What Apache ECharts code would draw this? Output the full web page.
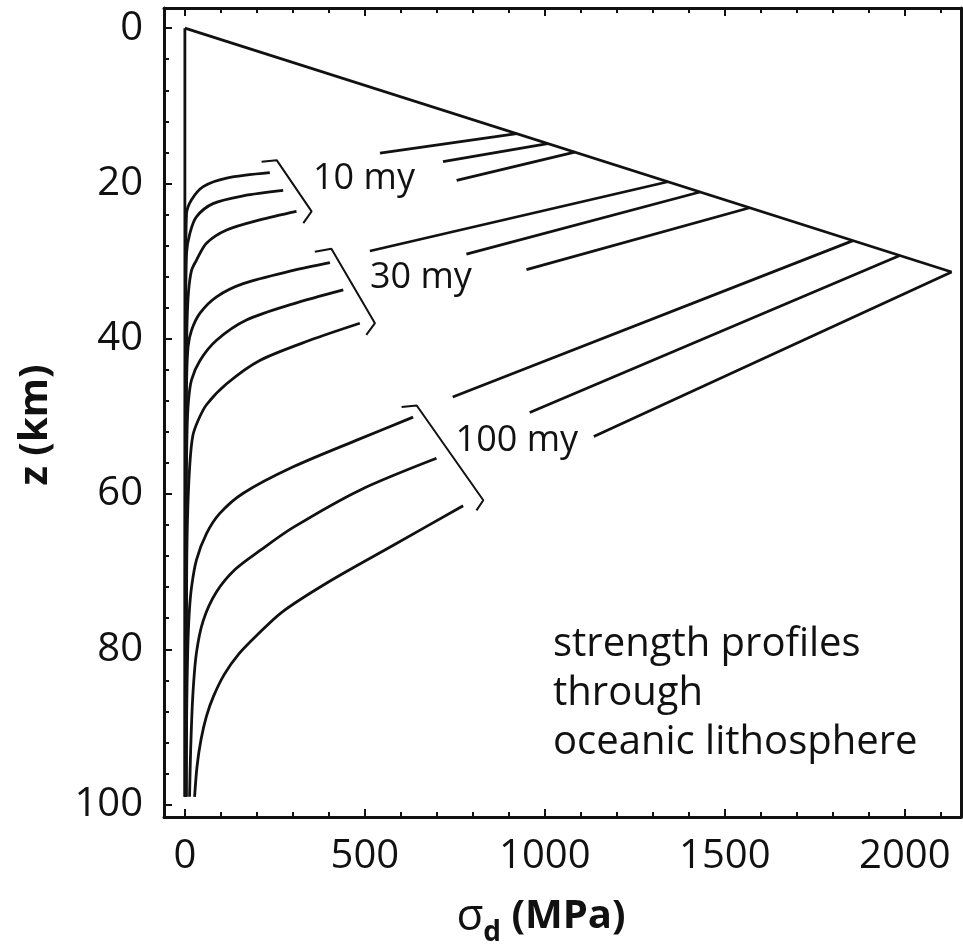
<!DOCTYPE html>
<html>
<head>
<meta charset="utf-8">
<title>strength profiles through oceanic lithosphere</title>
<script src="https://cdn.jsdelivr.net/npm/echarts@6/dist/echarts.min.js"></script>
<style>
html, body { margin: 0; padding: 0; background: #fff; }
#chart { width: 963px; height: 946px; }
</style>
</head>
<body>
<div id="chart"></div>
<script>
// stress sigma_d in MPa, depth z in km
const xTicks = [0, 500, 1000, 1500, 2000]
const xMinorTicks = [100, 200, 300, 400, 600, 700, 800, 900, 1100, 1200, 1300, 1400, 1600, 1700, 1800, 1900, 2100]
const yTicks = [0, 20, 40, 60, 80, 100]
const yMinorTicks = [4, 8, 12, 16, 24, 28, 32, 36, 44, 48, 52, 56, 64, 68, 72, 76, 84, 88, 92, 96]

const zeroLine = [[0, 0], [0, 99]]
const brittleLine = [[0, 0], [2130, 31.4]]

// ductile branches, part right of the bracket (from the brittle line down-left)
const upper10 = [
    [[922, 13.59], [542, 16.1]],
    [[1008, 14.86], [717, 17.2]],
    [[1083, 15.97], [755, 19.6]]
]
const upper30 = [
    [[1342, 19.78], [514, 28.7]],
    [[1431, 21.1], [782, 29.1]],
    [[1569, 23.13], [949, 31.1]]
]
const upper100 = [
    [[1856, 27.36], [744, 47.5]],
    [[1986, 29.28], [958, 49.5]],
    [[2130, 31.4], [1136, 52.6]]
]

// part left of the bracket, bending into the zero line
const lower10 = [
    [[236, 18.6], [116, 19.3], [51, 20.4], [18.5, 22.1], [4.6, 23.9], [2.5, 30], [1.5, 40], [1, 60], [0.5, 99]],
    [[273, 20.9], [162, 21.6], [78, 22.6], [32, 24.3], [14, 26.4], [4.6, 29], [2.5, 35], [1.5, 50], [1, 99]],
    [[310, 23.6], [208, 24.7], [116, 26], [60, 27.7], [32, 29.9], [18.5, 31.2], [10, 34], [6, 38], [3.5, 45], [2, 60], [1.5, 99]]
]
const lower30 = [
    [[403, 30.2], [301, 31.2], [162, 32.9], [88, 34.6], [42, 36.7], [18.5, 38.9], [9, 41], [5, 45], [3, 55], [2, 99]],
    [[440, 33.7], [301, 35.5], [171, 37.6], [88, 40.2], [42, 42.8], [18.5, 45.3], [10, 48], [6, 52], [4, 60], [2.5, 99]],
    [[486, 38], [347, 40.2], [208, 42.8], [116, 45.8], [60, 48.5], [37, 50.5], [22, 52.5], [14, 56], [8, 62], [5, 70], [3, 99]]
]
const lower100 = [
    [[634, 50.1], [486, 52.9], [301, 56.5], [162, 59.9], [97, 62.5], [60, 65.1], [32, 68.5], [18.5, 72], [12, 75.4], [8, 80], [5, 88], [4, 99]],
    [[699, 55.4], [486, 59.5], [301, 64.3], [208, 67.3], [140, 69.7], [88, 72.6], [51, 76.3], [32, 80.5], [22, 86], [16, 93], [13, 99]],
    [[773, 61.5], [579, 66.6], [400, 71.3], [270, 75.2], [200, 78.2], [150, 80.6], [110, 83.2], [80, 86], [60, 88.6], [45, 91.6], [34, 95], [27, 99]]
]

const brackets = [
    [[213, 17.2], [255, 17.0], [352, 23.6], [329, 25.1]],
    [[361, 28.8], [407, 28.4], [528, 38.0], [504, 39.5]],
    [[602, 48.8], [644, 48.6], [829, 60.8], [810, 62.1]]
]
const ageLabels = [
    [356, 19.4, '10 my'],
    [514, 32.2, '30 my'],
    [752, 53.2, '100 my']
]

const font = 'Open Sans'
const ink = '#111'

function lineSeries(data, smooth, width) {
    return {
        type: 'line',
        data: data,
        smooth: smooth,
        symbol: 'none',
        silent: true,
        animation: false,
        lineStyle: { color: ink, width: width || 2.8 }
    }
}

function xAxis(position, ticks, len, labels) {
    return {
        type: 'value', position: position, min: -58, max: 2156,
        axisLine: { show: labels, onZero: false, lineStyle: { color: ink, width: 3 } },
        axisTick: { show: true, inside: true, length: len, customValues: ticks, lineStyle: { color: ink, width: 2 } },
        axisLabel: {
            show: labels && position === 'bottom', customValues: ticks, margin: 20,
            formatter: v => String(v), fontFamily: font, fontSize: 40, color: ink
        },
        splitLine: { show: false }
    }
}
function yAxis(position, ticks, len, labels) {
    return {
        type: 'value', position: position, inverse: true, min: -2.6, max: 101.6,
        axisLine: { show: labels, onZero: false, lineStyle: { color: ink, width: 3 } },
        axisTick: { show: ticks.length > 0, inside: true, length: len, customValues: ticks, lineStyle: { color: ink, width: 2 } },
        axisLabel: {
            show: labels && position === 'left', customValues: ticks, margin: 21,
            formatter: v => String(v), fontFamily: font, fontSize: 40, color: ink
        },
        splitLine: { show: false }
    }
}

const chart = echarts.init(document.getElementById('chart'))
chart.setOption({
    backgroundColor: '#fff',
    animation: false,
    grid: { left: 164, top: 8, right: 2, bottom: 129, containLabel: false },
    xAxis: [
        xAxis('bottom', xTicks, 8, true),
        xAxis('bottom', xMinorTicks, 5, false),
        xAxis('top', xTicks, 8, true),
        xAxis('top', xMinorTicks, 5, false)
    ],
    yAxis: [
        yAxis('left', yTicks, 8, true),
        yAxis('left', yMinorTicks, 5, false),
        yAxis('right', [], 0, true)
    ],
    series: [
        lineSeries(zeroLine, false),
        lineSeries(brittleLine, false),
        ...upper10.map(d => lineSeries(d, false)),
        ...upper30.map(d => lineSeries(d, false)),
        ...upper100.map(d => lineSeries(d, false)),
        ...lower10.map(d => lineSeries(d, 0.3)),
        ...lower30.map(d => lineSeries(d, 0.3)),
        ...lower100.map(d => lineSeries(d, 0.3)),
        ...brackets.map(d => lineSeries(d, false, 2))
    ]
})

// age labels placed through the axes' scales
const ageText = ageLabels.map(a => {
    const p = chart.convertToPixel({ xAxisIndex: 0, yAxisIndex: 0 }, [a[0], a[1]])
    return {
        type: 'text', x: p[0], y: p[1], silent: true,
        style: { text: a[2], fontFamily: font, fontSize: 36, fill: ink, align: 'left', verticalAlign: 'middle' }
    }
})

chart.setOption({
    graphic: [
        ...ageText,
        {
            type: 'text', left: 553, top: 620, silent: true,
            style: { text: 'strength profiles\nthrough\noceanic lithosphere', fontFamily: font, fontSize: 40, lineHeight: 49, fill: ink }
        },
        {
            type: 'text', x: 36, y: 425, rotation: Math.PI / 2, silent: true,
            style: { text: 'z (km)', fontFamily: font, fontSize: 40, fontWeight: 'bold', fill: ink, align: 'center', verticalAlign: 'middle' }
        },
        {
            type: 'text', x: 541, y: 917, silent: true,
            style: {
                text: '{s|σ}{d|d}{m| (MPa)}',
                align: 'center', verticalAlign: 'middle', fill: ink,
                rich: {
                    s: { fontFamily: font, fontSize: 44, fill: ink },
                    d: { fontFamily: font, fontSize: 28, fontWeight: 'bold', fill: ink, verticalAlign: 'bottom', lineHeight: 60 },
                    m: { fontFamily: font, fontSize: 40, fontWeight: 'bold', fill: ink }
                }
            }
        }
    ]
})
</script>
</body>
</html>
